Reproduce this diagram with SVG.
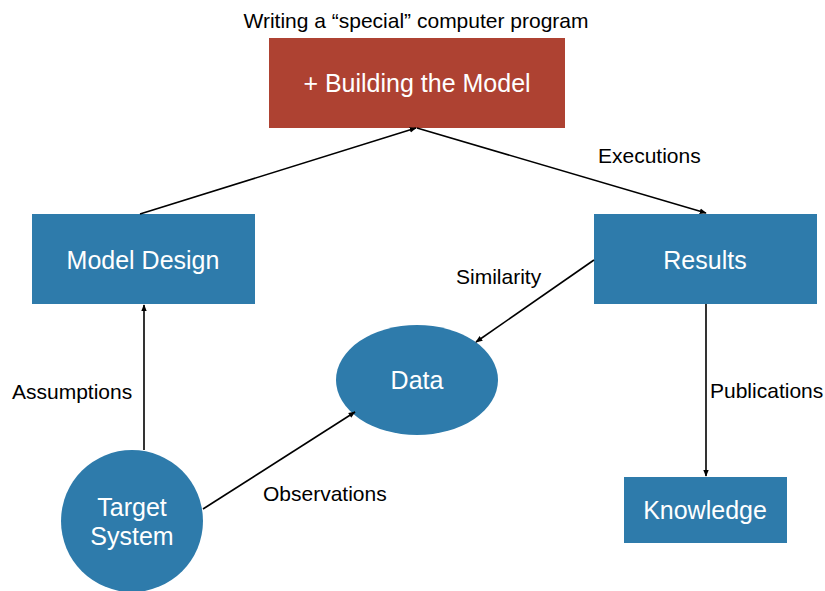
<svg xmlns="http://www.w3.org/2000/svg" width="825" height="591" viewBox="0 0 825 591">
  <style>
    .node { fill: #2E7BAB; }
    .red { fill: #AE4232; }
    .wt { font-family: "Liberation Sans", Arial, sans-serif; font-size: 25px; fill: #ffffff; text-anchor: middle; }
    .lb { font-family: "Liberation Sans", Arial, sans-serif; font-size: 21px; fill: #000000; }
    .edge { stroke: #000000; stroke-width: 1.6; fill: none; marker-end: url(#arrow); }
  </style>
  <defs>
    <marker id="arrow" viewBox="0 0 10 10" refX="9" refY="5" markerWidth="7" markerHeight="7" markerUnits="userSpaceOnUse" orient="auto">
      <path d="M0,1 L10,5 L0,9 z" fill="#000000"/>
    </marker>
  </defs>
  <rect width="825" height="591" fill="#ffffff"/>

  <text class="lb" x="416" y="28" text-anchor="middle">Writing a “special” computer program</text>

  <g id="building">
    <rect class="red" x="269" y="38" width="296" height="90"/>
    <text class="wt" x="417" y="92">+ Building the Model</text>
  </g>

  <g id="model-design">
    <rect class="node" x="32" y="214" width="223" height="90"/>
    <text class="wt" x="143" y="269">Model Design</text>
  </g>

  <g id="results">
    <rect class="node" x="594" y="214" width="223" height="90"/>
    <text class="wt" x="705" y="269">Results</text>
  </g>

  <g id="knowledge">
    <rect class="node" x="624" y="477" width="163" height="66"/>
    <text class="wt" x="705" y="519">Knowledge</text>
  </g>

  <g id="data">
    <ellipse class="node" cx="417" cy="380" rx="81" ry="55"/>
    <text class="wt" x="417" y="389">Data</text>
  </g>

  <g id="target-system">
    <circle class="node" cx="132" cy="521" r="71"/>
    <text class="wt" x="132" y="516">Target</text>
    <text class="wt" x="132" y="545">System</text>
  </g>

  <g id="connectors">
    <line class="edge" x1="140" y1="214" x2="416" y2="128"/>
    <line class="edge" x1="417" y1="128" x2="706" y2="213"/>
    <line class="edge" x1="594" y1="260" x2="476" y2="342"/>
    <line class="edge" x1="144" y1="450" x2="144" y2="305"/>
    <line class="edge" x1="203" y1="509" x2="355" y2="412"/>
    <line class="edge" x1="706" y1="304" x2="706" y2="476"/>
  </g>

  <g id="labels">
    <text class="lb" x="598" y="163">Executions</text>
    <text class="lb" x="456" y="284">Similarity</text>
    <text class="lb" x="12" y="399">Assumptions</text>
    <text class="lb" x="263" y="501">Observations</text>
    <text class="lb" x="710" y="398">Publications</text>
  </g>
</svg>
